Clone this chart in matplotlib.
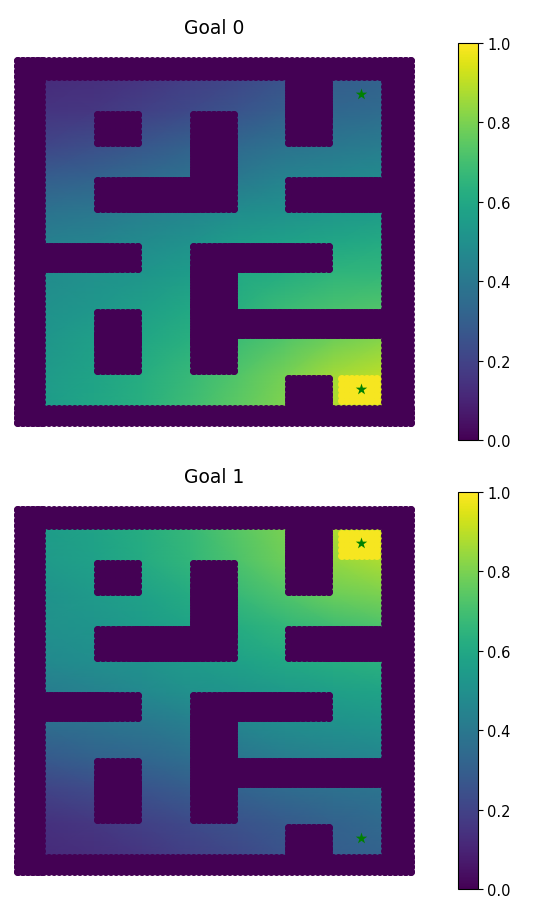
import matplotlib
matplotlib.use("Agg")
import matplotlib.pyplot as plt
import numpy as np

titles = ["Goal 0", "Goal 1"]
cbar_ticks = [0.0, 0.2, 0.4, 0.6, 0.8, 1.0]

# maze cell edges, same scale as the picture
col_edges = [46, 94, 142, 190, 238, 285, 333, 381]
row_edges = [82, 112, 148, 178, 214, 244, 274, 310, 340, 376, 406]
outer_box = [14, 415, 58, 428]

# 1 = wall, one row per maze row, top to bottom
wall_map = [
    [0, 0, 0, 0, 0, 1, 0],
    [0, 1, 0, 1, 0, 1, 0],
    [0, 0, 0, 1, 0, 0, 0],
    [0, 1, 1, 1, 0, 1, 1],
    [0, 0, 0, 0, 0, 0, 0],
    [1, 1, 0, 1, 1, 1, 0],
    [0, 0, 0, 1, 0, 0, 0],
    [0, 1, 0, 1, 1, 1, 1],
    [0, 1, 0, 1, 0, 0, 0],
    [0, 0, 0, 0, 0, 1, 0],
]

# value read at the corners of the maze cells
goal_0_values = [
    [.12, .13, .15, .18, .21, .25, .29, .31],
    [.15, .16, .19, .22, .26, .30, .33, .35],
    [.21, .24, .27, .31, .34, .38, .40, .42],
    [.29, .31, .34, .37, .40, .44, .46, .48],
    [.38, .40, .43, .46, .49, .51, .53, .55],
    [.43, .45, .48, .51, .55, .57, .59, .61],
    [.48, .50, .52, .55, .60, .62, .65, .66],
    [.50, .53, .56, .60, .63, .68, .71, .73],
    [.52, .56, .59, .63, .68, .73, .78, .82],
    [.54, .58, .62, .67, .73, .79, .86, .90],
    [.55, .59, .63, .69, .75, .81, .88, .92],
]
goal_1_values = [
    [.55, .58, .62, .67, .74, .80, .88, .92],
    [.54, .57, .61, .66, .72, .78, .84, .88],
    [.51, .54, .57, .61, .67, .72, .77, .80],
    [.50, .52, .55, .58, .62, .66, .69, .72],
    [.47, .49, .51, .54, .57, .60, .62, .64],
    [.42, .44, .47, .50, .52, .54, .56, .58],
    [.36, .38, .40, .43, .46, .49, .51, .53],
    [.28, .31, .33, .36, .39, .42, .44, .46],
    [.20, .23, .26, .29, .32, .35, .37, .39],
    [.14, .16, .19, .22, .25, .28, .31, .34],
    [.12, .13, .15, .18, .21, .25, .29, .31],
]
all_values = [goal_0_values, goal_1_values]

goal_x = [361, 361]
goal_y = [95, 390]
# row of the saturated cell in each panel
goal_row = [9, 0]
goal_value = 0.985

W, H = 536, 920
DOT_R = 4.0
DOT_S = 33
STEP = 5.2


def fill_dots(x0, x1, y0, y1):
    nx = max(int(round((x1 - x0 - 2 * DOT_R) / STEP)) + 1, 2)
    ny = max(int(round((y1 - y0 - 2 * DOT_R) / STEP)) + 1, 2)
    xs = np.linspace(x0 + DOT_R, x1 - DOT_R, nx)
    ys = np.linspace(y0 + DOT_R, y1 - DOT_R, ny)
    gx, gy = np.meshgrid(xs, ys)
    return gx.ravel(), gy.ravel()


def wall_at(r, c):
    # everything outside the map is outer wall
    if r < 0 or r > 9 or c < 0 or c > 6:
        return True
    return wall_map[r][c] == 1


def wall_dots():
    left, right, top, bottom = outer_box
    boxes = [
        (left, col_edges[0], top, bottom),
        (col_edges[-1], right, top, bottom),
        (left, right, top, row_edges[0]),
        (left, right, row_edges[-1], bottom),
    ]
    for r, row in enumerate(wall_map):
        for c, w in enumerate(row):
            if not w:
                continue
            # run the dots past an edge shared with another wall so no seam shows
            x0 = col_edges[c] - (2 * DOT_R if wall_at(r, c - 1) else 0)
            x1 = col_edges[c + 1] + (2 * DOT_R if wall_at(r, c + 1) else 0)
            y0 = row_edges[r] - (2 * DOT_R if wall_at(r - 1, c) else 0)
            y1 = row_edges[r + 1] + (2 * DOT_R if wall_at(r + 1, c) else 0)
            boxes.append((x0, x1, row_edges[r], row_edges[r + 1]))
            boxes.append((col_edges[c], col_edges[c + 1], y0, y1))
    pts = [fill_dots(*b) for b in boxes]
    return np.concatenate([p[0] for p in pts]), np.concatenate([p[1] for p in pts])


def plot_panel(fig, top, k):
    ax = fig.add_axes([0, 1 - (top + 397) / H, 429 / W, 397 / H])
    cax = fig.add_axes([457.5 / W, 1 - (top + 397) / H, 20 / W, 397 / H])

    # mesh runs a little under the outer wall so no gap shows between the dots
    xm = np.array(col_edges, dtype=float)
    ym = np.array(row_edges, dtype=float)
    xm[0] -= 5
    xm[-1] += 5
    ym[0] -= 5
    ym[-1] += 5
    mesh = ax.pcolormesh(xm, ym, np.array(all_values[k]), shading="gouraud",
                         cmap="viridis", vmin=0, vmax=1)

    # saturated patch round the active goal
    r = goal_row[k]
    px, py = fill_dots(col_edges[6], col_edges[7], row_edges[r], row_edges[r + 1])
    cy = (row_edges[r] + row_edges[r + 1]) / 2
    near = np.hypot(px - goal_x[k], py - cy) < 22
    ax.scatter(px[near], py[near], c=np.full(near.sum(), goal_value), cmap="viridis",
               vmin=0, vmax=1, s=DOT_S, linewidths=0)

    wx, wy = wall_dots()
    ax.scatter(wx, wy, c=np.zeros(len(wx)), cmap="viridis", vmin=0, vmax=1,
               s=DOT_S, linewidths=0)

    ax.scatter(goal_x, goal_y, marker="*", c="green", s=75, linewidths=0, zorder=5)

    ax.set_xlim(0, 429)
    ax.set_ylim(441, 44)
    ax.axis("off")
    ax.set_title(titles[k], fontsize=13.5, pad=7)

    cb = fig.colorbar(mesh, cax=cax)
    cb.set_ticks(cbar_ticks)
    cb.ax.tick_params(labelsize=10.5)


if __name__ == '__main__':
    fig = plt.figure(figsize=(W / 100, H / 100), dpi=100)
    plot_panel(fig, 44, 0)
    plot_panel(fig, 493, 1)
    fig.savefig("out.png", dpi=100)
